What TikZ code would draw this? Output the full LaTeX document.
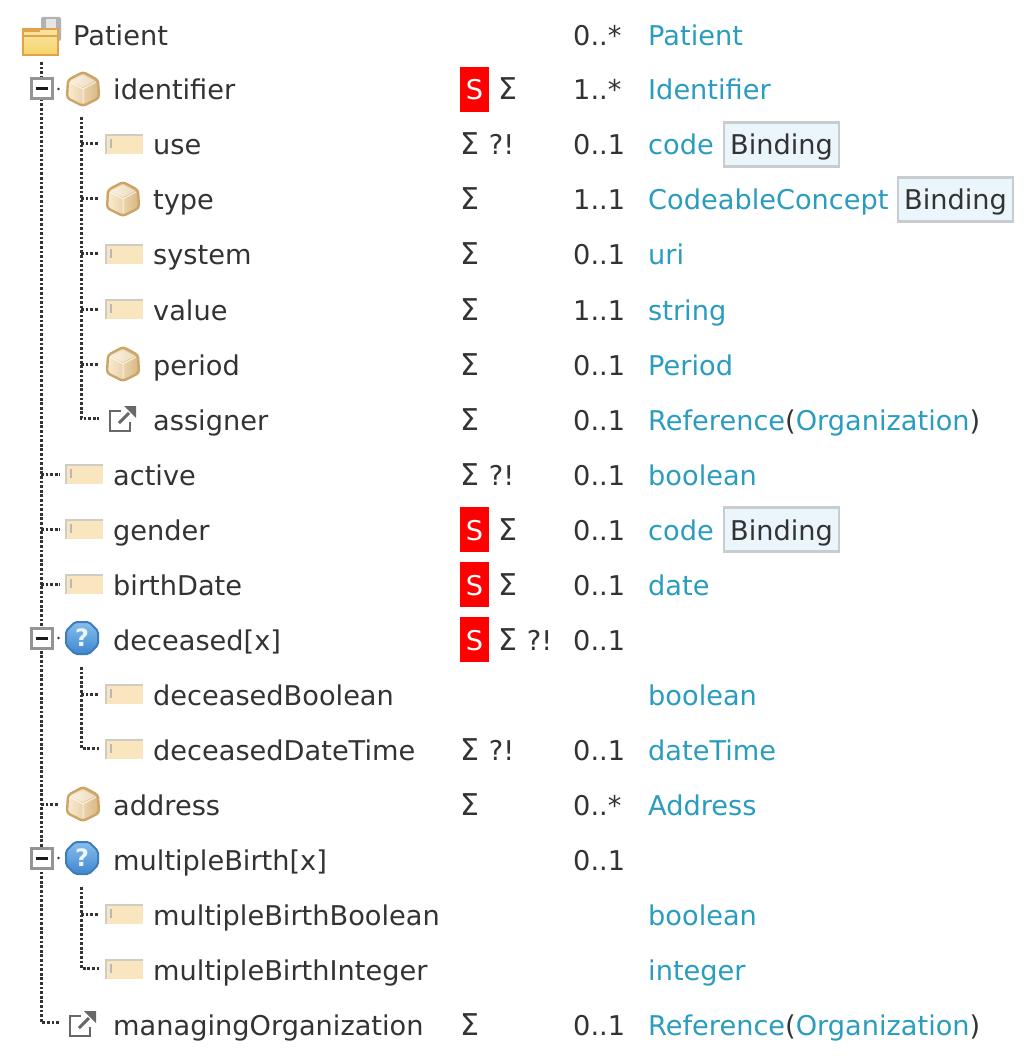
\documentclass[tikz,border=0pt]{standalone}
\usepackage{fontspec}
\setmainfont{DejaVu Sans}
\definecolor{ink}{HTML}{333333}
\definecolor{linkc}{HTML}{2A9DBF}
\definecolor{elemf}{HTML}{F9E6BF}
\definecolor{elemb}{HTML}{CFCCC6}
\definecolor{cubeb}{HTML}{CBA468}
\definecolor{bindf}{HTML}{EAF6FC}
\definecolor{bindb}{HTML}{C8CCCE}
\definecolor{qtop}{HTML}{86BFEC}
\definecolor{qbot}{HTML}{3F86D0}
\definecolor{qbrd}{HTML}{3E7CBC}
\definecolor{refc}{HTML}{686868}
\definecolor{foldb}{HTML}{E2A24A}
\definecolor{foldt}{HTML}{F8E4A8}
\definecolor{foldl}{HTML}{F6D468}
\tikzset{
  x=1pt,y=-1pt,
  txt/.style={anchor=base west,inner sep=0pt,text=ink,font=\fontsize{27.2}{32}\selectfont},
  lnk/.style={txt,text=linkc},
  badge/.style={txt,anchor=base,fill=red,text=white,text height=33pt,text depth=12pt,minimum width=29pt},
  bind/.style={txt,draw=bindb,line width=2.2pt,fill=bindf,text height=32.5pt,text depth=11.5pt,inner xsep=6pt},
  iconspot/.style={inner sep=0pt,minimum width=38pt,minimum height=24pt},
  treeline/.style={draw=ink,line width=3pt,dash pattern=on 2.7pt off 1.9pt},
  expander/.style={draw=black!42,line width=3pt,fill=white,minimum width=21pt,minimum height=20pt,inner sep=0pt,
    path picture={\draw[black!90,line width=3pt] ([xshift=-6pt]path picture bounding box.center) -- ([xshift=6pt]path picture bounding box.center);}},
  pics/cubeicon/.style={code={
    \draw[cubeb,line width=2.4pt,rounded corners=3pt,left color=elemf!70!white,right color=cubeb!70!elemf]
      (0,-17) -- (15,-9) -- (16,9) -- (0,17) -- (-16,9) -- (-15,-9) -- cycle;
    \fill[white,opacity=.45] (0,-14) -- (12,-8) -- (0,-2) -- (-12,-8) -- cycle;
    \draw[white,line width=1pt,opacity=.7] (-13,-7) -- (0,0) -- (13,-7) (0,0) -- (0,14);
  }},
  pics/elemicon/.style={code={
    \fill[elemf] (-19,-10) rectangle (19,10);
    \draw[elemb,line width=2.4pt] (-18,10) -- (-18,-9) -- (19,-9);
    \draw[black!28,line width=1.6pt] (-13,-5) -- (-13,4);
  }},
  pics/choiceicon/.style={code={
    \draw[qbrd,line width=2pt,rounded corners=2pt,top color=qtop,bottom color=qbot]
      (-7,-16) -- (7,-16) -- (16,-7) -- (16,7) -- (7,16) -- (-7,16) -- (-16,7) -- (-16,-7) -- cycle;
    \node[inner sep=0pt,text=white!85!qtop,font=\fontsize{24}{24}\bfseries\selectfont] at (0,0) {?};
  }},
  pics/refericon/.style={code={
    \draw[refc,line width=2.8pt] (-1,-8) -- (-12,-8) -- (-12,12) -- (8,12) -- (8,3);
    \draw[refc,line width=3pt] (-3,4) -- (7,-6);
    \fill[refc] (2,-13) -- (14,-13) -- (14,-1) -- cycle;
  }},
  pics/foldericon/.style={code={
    \fill[black!30,rounded corners=2pt] (0,-20) rectangle (20,4);
    \fill[black!10] (5,-18) rectangle (15,4);
    \draw[foldb,line width=2pt,top color=foldt,bottom color=foldl]
      (-18,-8) -- (17,-8) -- (17,18) -- (-18,18) -- cycle;
    \fill[foldb] (-18,-9) rectangle (-1,-5);
    \draw[foldb,line width=1.2pt] (-18,-1) -- (17,-1);
  }},
}
\newcommand{\Lab}[4]{\node[txt] (#1) at (#2,{#3+10}) {#4};}
\newcommand{\Flg}[4]{\node[txt] (#1) at (#2,{#3+10}) {#4};}
\newcommand{\Bdg}[2]{\node[badge] (#1) at (474.5,{#2+11}) {S};}
\newcommand{\Crd}[3]{\node[txt] (#1) at (573,{#2+10}) {#3};}
\newcommand{\Typ}[3]{\node[lnk] (#1) at (648,{#2+10}) {#3};}
\newcommand{\Icon}[4]{\node[iconspot] (#1) at (#2,#3) {}; \pic at (#1.center) {#4};}
\newcommand{\Refs}{Reference\textcolor{ink}{(}Organization\textcolor{ink}{)}}
\newcommand{\Sg}{{\fontsize{30}{32}\selectfont Σ}}
\newcommand{\Sq}{\Sg\hspace{1pt} ?!}
\begin{document}
\begin{tikzpicture}
\useasboundingbox[fill=white] (0,0) rectangle (1030,1056);
% icons
\node[iconspot] (i-patient) at (41,37) {}; \pic at (i-patient.center) {foldericon};
\Icon{i-identifier}{83}{89}{cubeicon}
\Icon{i-use}{124}{144}{elemicon}
\Icon{i-type}{123}{199}{cubeicon}
\Icon{i-system}{124}{254}{elemicon}
\Icon{i-value}{124}{309}{elemicon}
\Icon{i-period}{123}{364}{cubeicon}
\Icon{i-assigner}{122}{419}{refericon}
\Icon{i-active}{84}{474}{elemicon}
\Icon{i-gender}{84}{529}{elemicon}
\Icon{i-birthdate}{84}{584}{elemicon}
\Icon{i-deceased}{82}{638}{choiceicon}
\Icon{i-decbool}{124}{694}{elemicon}
\Icon{i-decdate}{124}{749}{elemicon}
\Icon{i-address}{83}{804}{cubeicon}
\Icon{i-multiple}{82}{858}{choiceicon}
\Icon{i-mbool}{124}{914}{elemicon}
\Icon{i-mint}{124}{969}{elemicon}
\Icon{i-managing}{82}{1024}{refericon}
% tree
\coordinate (spine0) at (41,62);
\coordinate (spine1) at (41,1022);
\coordinate (a0) at (81,117); \coordinate (a1) at (81,418);
\coordinate (b0) at (81,667); \coordinate (b1) at (81,748);
\coordinate (c0) at (81,887); \coordinate (c1) at (81,968);
\draw[treeline] (spine0) -- (spine1) -- ([xshift=-3pt]i-managing.west |- spine1);
\draw[treeline] (a0) -- (a1) -- ([xshift=-4pt]i-assigner.west |- a1);
\draw[treeline] (b0) -- (b1) -- ([xshift=-6pt]i-decdate.west |- b1);
\draw[treeline] (c0) -- (c1) -- ([xshift=-6pt]i-mint.west |- c1);
\foreach \n in {use,type,system,value,period}
  \draw[treeline] (a0 |- i-\n.west) -- ([xshift=-6pt]i-\n.west);
\draw[treeline] (b0 |- i-decbool.west) -- ([xshift=-6pt]i-decbool.west);
\draw[treeline] (c0 |- i-mbool.west) -- ([xshift=-6pt]i-mbool.west);
\foreach \n in {active,gender,birthdate,address}
  \draw[treeline] (spine0 |- i-\n.west) -- ([xshift=-5pt]i-\n.west);
\node[expander] (x-identifier) at (41.5,89) {};
\node[expander] (x-deceased) at (41.5,638) {};
\node[expander] (x-multiple) at (41.5,858) {};
\fill[ink] ([xshift=5pt]x-identifier.east) circle (1.3pt);
\fill[ink] ([xshift=5pt]x-deceased.east) circle (1.3pt);
\fill[ink] ([xshift=5pt]x-multiple.east) circle (1.3pt);
% labels
\Lab{l-patient}{73}{36}{Patient}
\Lab{l-identifier}{113}{90}{identifier}
\Lab{l-use}{153}{145}{use}
\Lab{l-type}{153}{200}{type}
\Lab{l-system}{153}{255}{system}
\Lab{l-value}{153}{310}{value}
\Lab{l-period}{153}{365}{period}
\Lab{l-assigner}{153}{420}{assigner}
\Lab{l-active}{113}{475}{active}
\Lab{l-gender}{113}{530}{gender}
\Lab{l-birthdate}{113}{585}{birthDate}
\Lab{l-deceased}{113}{640}{deceased[x]}
\Lab{l-decbool}{153}{695}{deceasedBoolean}
\Lab{l-decdate}{153}{750}{deceasedDateTime}
\Lab{l-address}{113}{805}{address}
\Lab{l-multiple}{113}{860}{multipleBirth[x]}
\Lab{l-mbool}{153}{915}{multipleBirthBoolean}
\Lab{l-mint}{153}{970}{multipleBirthInteger}
\Lab{l-managing}{113}{1025}{managingOrganization}
% flags
\Bdg{s-identifier}{89}
\Flg{f-identifier}{498}{90}{\Sg}
\Flg{f-use}{460}{145}{\Sq}
\Flg{f-type}{460}{200}{\Sg}
\Flg{f-system}{460}{255}{\Sg}
\Flg{f-value}{460}{310}{\Sg}
\Flg{f-period}{460}{365}{\Sg}
\Flg{f-assigner}{460}{420}{\Sg}
\Flg{f-active}{460}{475}{\Sq}
\Bdg{s-gender}{529}
\Flg{f-gender}{498}{530}{\Sg}
\Bdg{s-birthdate}{584}
\Flg{f-birthdate}{498}{585}{\Sg}
\Bdg{s-deceased}{639}
\Flg{f-deceased}{498}{640}{\Sq}
\Flg{f-decdate}{460}{750}{\Sq}
\Flg{f-address}{460}{805}{\Sg}
\Flg{f-managing}{460}{1025}{\Sg}
% cardinalities
\Crd{c-patient}{36}{0..*}
\Crd{c-identifier}{90}{1..*}
\Crd{c-use}{145}{0..1}
\Crd{c-type}{200}{1..1}
\Crd{c-system}{255}{0..1}
\Crd{c-value}{310}{1..1}
\Crd{c-period}{365}{0..1}
\Crd{c-assigner}{420}{0..1}
\Crd{c-active}{475}{0..1}
\Crd{c-gender}{530}{0..1}
\Crd{c-birthdate}{585}{0..1}
\Crd{c-deceased}{640}{0..1}
\Crd{c-decdate}{750}{0..1}
\Crd{c-address}{805}{0..*}
\Crd{c-multiple}{860}{0..1}
\Crd{c-managing}{1025}{0..1}
% types
\Typ{t-patient}{36}{Patient}
\Typ{t-identifier}{90}{Identifier}
\Typ{t-use}{145}{code}
\node[bind] (b-use) at (723,155) {Binding};
\Typ{t-type}{200}{CodeableConcept}
\node[bind] (b-type) at (897,210) {Binding};
\Typ{t-system}{255}{uri}
\Typ{t-value}{310}{string}
\Typ{t-period}{365}{Period}
\Typ{t-assigner}{420}{\Refs}
\Typ{t-active}{475}{boolean}
\Typ{t-gender}{530}{code}
\node[bind] (b-gender) at (723,540) {Binding};
\Typ{t-birthdate}{585}{date}
\Typ{t-decbool}{695}{boolean}
\Typ{t-decdate}{750}{dateTime}
\Typ{t-address}{805}{Address}
\Typ{t-mbool}{915}{boolean}
\Typ{t-mint}{970}{integer}
\Typ{t-managing}{1025}{\Refs}
\end{tikzpicture}
\end{document}
